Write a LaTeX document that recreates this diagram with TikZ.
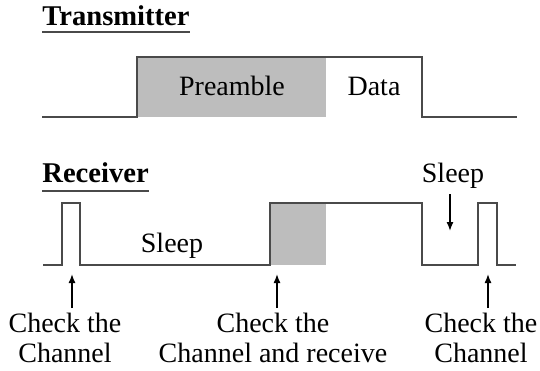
\documentclass[tikz,border=0pt]{standalone}
\usepackage{fontspec}
\setmainfont{Liberation Serif}
\usetikzlibrary{arrows.meta}
\definecolor{wave}{HTML}{4A4A4A}
\definecolor{boxgray}{HTML}{BDBDBD}
\begin{document}
\begin{tikzpicture}[x=0.5pt,y=-0.5pt,
  txt/.style={font=\fontsize{14}{15}\selectfont,inner sep=0pt},
  title/.style={font=\fontsize{14.3}{15}\selectfont\bfseries,inner sep=0pt,anchor=base west},
  rule/.style={draw=wave,line width=0.9pt},
  lab/.style={txt,align=center,anchor=north,inner sep=2.5pt},
  signal/.style={draw=wave,line width=1pt,line join=miter},
  pointer/.style={draw=black,line width=0.7pt,-{Latex[length=4.5pt,width=3.5pt]}}]
\useasboundingbox (0,0) rectangle (540,370);

% titles, underlined
\node[title] (tx) at (42,25) {Transmitter};
\node[title] (rx) at (42,182) {Receiver};
\draw[rule] ([yshift=-3.5pt]tx.base west) -- ([yshift=-3.5pt]tx.base east);
\draw[rule] ([yshift=-4.5pt]rx.base west) -- ([yshift=-4.5pt]rx.base east);

% transmitter: preamble then data
\fill[boxgray] (137,57) rectangle (326,117);
\draw[signal] (42,117) -- (137,117) -- (137,57) -- (422,57) -- (422,117) -- (517,117);
\node[txt,anchor=base] (pre) at (232,95) {Preamble};
\node[txt,anchor=base] (data) at (374,95) {Data};

% receiver: short checks, sleep, then reception
\fill[boxgray] (270,203) rectangle (326,265);
\draw[signal] (43,265) -- (62,265) -- (62,203) -- (80,203) -- (80,265)
  -- (270,265) -- (270,203) -- (422,203) -- (422,265) -- (478,265)
  -- (478,203) -- (497,203) -- (497,265) -- (516,265);
\node[txt,anchor=base] (sleep1) at (172,252) {Sleep};
\node[txt,anchor=base] (sleep2) at (453,182) {Sleep};

% markers
\coordinate (c1) at (72,274);
\coordinate (c2) at (277,274);
\coordinate (c3) at (488,274);
\coordinate (s2) at (450,231);
\node[lab] (l1) at (65,308) {Check the\\Channel};
\node[lab] (l2) at (273,308) {Check the\\Channel and receive};
\node[lab] (l3) at (481,308) {Check the\\Channel};
\draw[pointer] (l1.north -| c1) -- (c1);
\draw[pointer] (l2.north -| c2) -- (c2);
\draw[pointer] (l3.north -| c3) -- (c3);
\draw[pointer] (s2 |- sleep2.south) ++(0,6) -- (s2);
\end{tikzpicture}
\end{document}
